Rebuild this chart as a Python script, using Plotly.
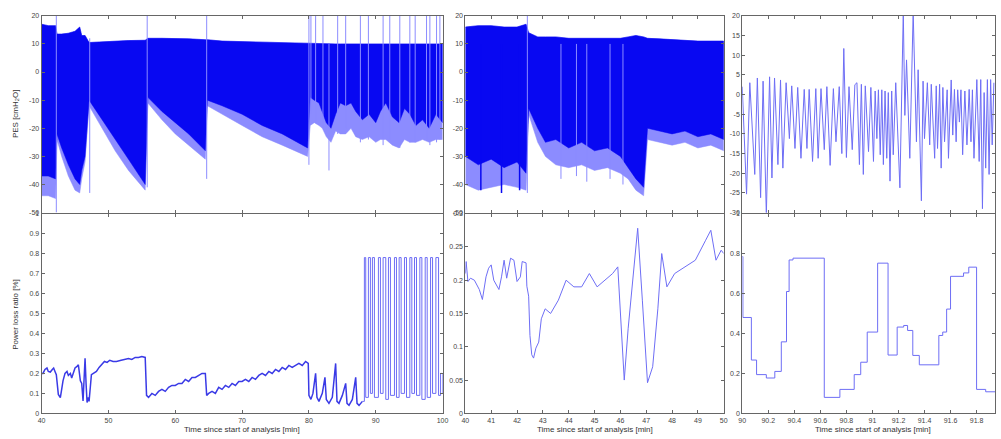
import plotly.graph_objects as go

# ---------------- PES, 40-100 min (dense breathing signal as envelopes) ----------------
pes_a_t = [40.0, 41.0, 42.1, 42.3, 43.0, 44.0, 45.0, 45.7, 46.0, 46.5, 47.1, 49.0, 51.0, 53.0, 55.5,
           55.9, 58.0, 60.0, 62.0, 64.5, 64.8, 67.0, 70.0, 73.0, 76.0, 79.8,
           80.2, 80.8, 81.5, 82.0, 82.6, 83.3, 84.0, 84.7, 85.5, 86.3, 87.0, 88.0, 89.0, 90.0, 90.7,
           91.5, 92.5, 93.5, 94.3, 95.1, 96.0, 97.0, 98.0, 99.0, 100.0]
pes_a_hi = [17, 16.5, 16.5, 13.5, 13.5, 13.8, 14.5, 16, 13, 13, 10.5, 10.8, 11, 11.2, 11.3,
            12, 12, 12, 11.8, 11.5, 11.5, 11, 10.8, 10.5, 10.3, 10.2,
            10, 10, 10, 10, 10, 10, 10, 10, 10, 10, 10, 10, 10, 10, 10,
            10, 10, 10, 10, 10, 10, 10, 10, 10, 10]
pes_a_lo = [-37, -37, -38, -22, -27, -33, -38, -40, -35, -30, -10, -17, -24, -31, -40,
            -9, -14, -18, -22, -28, -10, -12, -15, -19, -22, -27,
            -9, -10, -11, -14, -18, -20, -15, -11, -12, -11, -14, -17, -15, -18, -14,
            -11, -16, -18, -13, -15, -19, -17, -20, -15, -18]
pes_a_lo2 = [-44, -44, -45, -24, -30, -37, -42, -43, -38, -32, -12, -20, -28, -35, -42,
             -11, -17, -22, -26, -31, -12, -15, -19, -23, -26, -30,
             -19, -18, -19, -20, -23, -25, -21, -22, -22, -20, -23, -24, -23, -25, -24,
             -24, -26, -27, -24, -25, -25, -24, -25, -24, -24]
pes_a_spk_t = [42.2, 47.2, 55.8, 64.7, 80.0, 80.3, 81.0, 82.1, 83.0, 84.3, 85.5, 87.7, 88.9,
               91.1, 92.1, 93.6, 95.1, 95.9, 97.6, 98.1, 99.1, 99.6]
pes_a_spk_hi = [20, 12, 20, 20, 20, 20, 20, 20, 10, 20, 20, 20, 20, 20, 20, 20, 20, 20, 20, 20, 20, 20]
pes_a_spk_lo = [-50, -43, -41, -38, -33, -15, -18, -20, -35, -22, -20, -25, -24, -26, -24, -27,
                -25, -25, -24, -26, -25, -24]

# ---------------- PES, 40-50 min ----------------
pes_b_t = [40.0, 40.5, 41.0, 41.5, 42.0, 42.35, 42.45, 42.8, 43.1, 43.5, 44.0, 44.5, 45.0, 45.5,
           46.0, 46.3, 46.6, 46.9, 47.05, 47.5, 48.0, 48.5, 49.0, 49.5, 50.0]
pes_b_hi = [16, 16.5, 16.5, 16, 16, 17, 14, 12.5, 12.5, 12.5, 12, 12, 12, 12,
            12, 12.5, 13, 12.5, 12, 11.8, 11.5, 11.3, 11, 11, 11]
pes_b_lo = [-30, -33, -31, -34, -32, -36, -13, -20, -25, -24, -27, -25, -28, -27,
            -30, -34, -38, -41, -20, -21, -22, -21, -23, -22, -24]
pes_b_lo2 = [-40, -42, -41, -40, -41, -42, -15, -25, -30, -33, -34, -33, -35, -34,
             -36, -38, -42, -44, -24, -25, -26, -25, -27, -26, -28]
pes_b_spk_t = [42.4, 40.6, 41.4, 42.1, 43.7, 44.3, 44.7, 45.6, 46.1]
pes_b_spk_hi = [20, 10, 10, 10, 10, 10, 10, 10, 10]
pes_b_spk_lo = [-43, -42, -43, -42, -38, -37, -39, -38, -40]
pes_b_spk_dark = [False, True, True, True, False, False, False, False, False]

# ---------------- PES, 90-92 min (individual breaths: alternating peaks and troughs) ----------------
pes_c_t = [90.000, 90.033, 90.058, 90.096, 90.116, 90.141, 90.160, 90.185, 90.210, 90.228, 90.248,
           90.274, 90.294, 90.312, 90.337, 90.362, 90.380, 90.405, 90.426, 90.451, 90.476, 90.497,
           90.514, 90.540, 90.565, 90.583, 90.605, 90.630, 90.650, 90.675, 90.700, 90.720, 90.745,
           90.765, 90.780, 90.800, 90.820, 90.845, 90.865, 90.881, 90.900, 90.915, 90.930, 90.945,
           90.970, 90.988, 91.008, 91.021, 91.034, 91.046, 91.060, 91.072, 91.084, 91.097, 91.110,
           91.122, 91.135, 91.148, 91.160, 91.179, 91.211, 91.237, 91.249, 91.262, 91.287, 91.313,
           91.338, 91.351, 91.376, 91.389, 91.400, 91.422, 91.440, 91.452, 91.478, 91.490, 91.500,
           91.516, 91.528, 91.541, 91.554, 91.574, 91.584, 91.605, 91.617, 91.630, 91.643, 91.655,
           91.668, 91.680, 91.693, 91.710, 91.726, 91.743, 91.757, 91.768, 91.780, 91.802, 91.820,
           91.832, 91.845, 91.858, 91.870, 91.883, 91.896, 91.908, 91.920, 91.933]
pes_c_v = [2.0, -25.3, 3.0, -20.3, 4.2, -26.2, 3.4, -30.5, 4.5, -21.2, 4.2,
           -17.8, 3.7, -18.7, 3.0, -11.2, 2.2, -13.7, 1.8, -16.2, 1.3, -13.7,
           1.3, -17.0, 1.5, -16.2, 1.5, -14.0, 2.0, -18.0, 1.5, -12.0, 2.0,
           -15.0, 11.7, -16.0, 2.0, -14.0, 2.5, 3.0, -17.8, 2.6, -20.3, 2.2,
           -14.5, 1.8, -17.0, 0.9, -11.2, 1.2, -15.3, 1.2, -17.8, 0.9, -16.2,
           0.5, -22.0, 0.9, -15.3, 3.0, -23.7, 21.0, -5.3, 8.8, -16.2, 21.0,
           -12.0, 6.3, -27.0, 3.4, -11.2, 3.0, -12.8, 2.6, -16.2, 2.2, -13.7,
           2.6, -18.7, 1.8, -12.0, 1.2, -16.2, 3.7, -10.3, 1.3, -12.0, 1.2,
           -7.0, 1.2, -15.3, 0.9, -12.8, 1.3, -12.0, 1.2, -16.2, 3.8, -17.0,
           3.8, -29.0, 0.5, -18.7, 3.8, -20.3, 3.8, -12.8, 3.0]

# ---------------- Power loss ratio, 40-88 min ----------------
plr_a_t = [40.0, 40.2, 40.5, 40.8, 41.0, 41.3, 41.6, 41.8, 42.0, 42.2, 42.5, 42.8, 43.0, 43.2, 43.5, 43.8,
           44.0, 44.3, 44.5, 44.8, 45.0, 45.3, 45.5, 45.8, 46.0, 46.2, 46.35, 46.5, 46.65, 46.8, 47.0,
           47.1, 47.45, 47.8, 48.2, 48.6, 48.9, 49.4, 49.8, 50.2, 50.7, 51.2, 51.9, 52.5, 53.0, 53.5,
           54.0, 54.5, 55.0, 55.5, 55.7, 56.0, 56.5, 57.0, 57.5, 58.0, 58.5, 59.0, 59.5, 60.0, 60.5,
           61.0, 61.5, 62.0, 62.5, 63.0, 63.5, 64.0, 64.5, 64.7, 65.0, 65.5, 66.0, 66.5, 67.0, 67.5,
           68.0, 68.5, 69.0, 69.5, 70.0, 70.5, 71.0, 71.5, 72.0, 72.5, 73.0, 73.5, 74.0, 74.5, 75.0,
           75.5, 76.0, 76.5, 77.0, 77.5, 78.0, 78.5, 79.0, 79.5, 79.9, 80.0, 80.3, 80.6, 81.0, 81.2,
           81.5, 82.0, 82.4, 82.6, 83.0, 83.5, 84.0, 84.2, 84.5, 85.0, 85.5, 85.7, 86.0, 86.5, 87.0,
           87.2, 87.5, 88.0]
plr_a_v = [0.2, 0.2, 0.22, 0.227, 0.21, 0.207, 0.22, 0.227, 0.21, 0.194, 0.095, 0.079, 0.12, 0.163, 0.2,
           0.21, 0.19, 0.2, 0.177, 0.21, 0.227, 0.235, 0.243, 0.163, 0.15, 0.062, 0.22, 0.276, 0.15,
           0.054, 0.08, 0.06, 0.194, 0.2, 0.21, 0.23, 0.243, 0.26, 0.255, 0.266, 0.26, 0.26, 0.266,
           0.27, 0.275, 0.27, 0.28, 0.28, 0.285, 0.28, 0.09, 0.08, 0.1, 0.09, 0.11, 0.12, 0.11, 0.13,
           0.14, 0.14, 0.15, 0.15, 0.17, 0.16, 0.18, 0.18, 0.19, 0.2, 0.2, 0.09, 0.1, 0.11, 0.1, 0.13,
           0.12, 0.14, 0.13, 0.15, 0.14, 0.16, 0.16, 0.17, 0.16, 0.18, 0.17, 0.19, 0.2, 0.19, 0.21,
           0.2, 0.22, 0.21, 0.23, 0.22, 0.24, 0.23, 0.24, 0.25, 0.24, 0.26, 0.25, 0.09, 0.07, 0.1,
           0.2, 0.08, 0.06, 0.1, 0.18, 0.07, 0.05, 0.08, 0.25, 0.06, 0.05, 0.09, 0.15, 0.05, 0.04,
           0.07, 0.18, 0.05, 0.04, 0.06]
# on/off episodes, 88-100 min (held values)
plr_a_pulse_t = [88.0, 88.3, 88.5, 88.9, 89.2, 89.5, 89.8, 90.4, 90.7, 91.1, 91.5, 91.9, 92.2,
                 92.8, 93.1, 93.5, 93.8, 94.3, 94.6, 95.1, 95.4, 95.8, 96.1, 96.6, 96.9, 97.4, 97.7, 98.2,
                 98.5, 99.0, 99.4, 99.7, 100.0]
plr_a_pulse_v = [0.06, 0.78, 0.08, 0.78, 0.1, 0.78, 0.08, 0.78, 0.1, 0.78, 0.07,
                 0.78, 0.09, 0.78, 0.08, 0.78, 0.1, 0.78, 0.08, 0.78, 0.1, 0.78, 0.09, 0.78, 0.07, 0.78,
                 0.08, 0.78, 0.1, 0.78, 0.09, 0.2, 0.1]

# ---------------- Power loss ratio, 40-50 min ----------------
plr_b_t = [40.0, 40.03, 40.1, 40.2, 40.35, 40.54, 40.66, 40.8, 40.9, 41.0, 41.1, 41.3, 41.4, 41.5, 41.6,
           41.75, 41.88, 42.0, 42.13, 42.2, 42.35, 42.38, 42.45, 42.5, 42.57, 42.64, 42.73, 42.84, 42.94,
           43.09, 43.3, 43.6, 43.9, 44.2, 44.5, 44.8, 45.1, 45.4, 45.7, 45.9, 46.05, 46.15, 46.3, 46.67,
           46.85, 47.05, 47.25, 47.45, 47.6, 47.8, 48.1, 48.5, 48.9, 49.3, 49.5, 49.7, 49.9, 50.0]
plr_b_v = [0.21, 0.228, 0.198, 0.203, 0.2, 0.186, 0.171, 0.205, 0.218, 0.223, 0.2, 0.186, 0.205, 0.23,
           0.203, 0.233, 0.23, 0.198, 0.205, 0.228, 0.226, 0.191, 0.176, 0.117, 0.088, 0.083, 0.098,
           0.107, 0.142, 0.157, 0.15, 0.17, 0.2, 0.19, 0.19, 0.21, 0.19, 0.2, 0.21, 0.22, 0.11, 0.05,
           0.127, 0.278, 0.17, 0.046, 0.07, 0.157, 0.24, 0.19, 0.21, 0.22, 0.23, 0.26, 0.275, 0.23,
           0.245, 0.24]

# ---------------- Power loss ratio, 90-92 min (held samples) ----------------
plr_c_t = [90.0, 90.005, 90.07, 90.11, 90.185, 90.25, 90.30, 90.34, 90.36, 90.39, 90.63, 90.75, 90.86,
           90.91, 90.96, 91.04, 91.12, 91.19, 91.24, 91.27, 91.31, 91.36, 91.51, 91.54, 91.57, 91.60,
           91.70, 91.74, 91.80, 91.87, 91.95]
plr_c_v = [0.785, 0.48, 0.267, 0.194, 0.177, 0.21, 0.358, 0.61, 0.768, 0.777, 0.08, 0.12, 0.194,
           0.256, 0.407, 0.752, 0.292, 0.432, 0.44, 0.415, 0.29, 0.243, 0.39, 0.407, 0.522, 0.686,
           0.703, 0.732, 0.12, 0.108, 0.108]

# ---------------- tick labels ----------------
pes_ab_ticks = [-50, -40, -30, -20, -10, 0, 10, 20]
pes_c_ticks = [-30, -25, -20, -15, -10, -5, 0, 5, 10, 15, 20]
plr_a_ticks = [0, 0.1, 0.2, 0.3, 0.4, 0.5, 0.6, 0.7, 0.8, 0.9, 1]
plr_b_ticks = [0, 0.05, 0.1, 0.15, 0.2, 0.25, 0.3]
plr_c_ticks = [0, 0.2, 0.4, 0.6, 0.8, 1]
time_a_ticks = [40, 50, 60, 70, 80, 90, 100]
time_b_ticks = [40, 41, 42, 43, 44, 45, 46, 47, 48, 49, 50]
time_c_ticks = [90, 90.2, 90.4, 90.6, 90.8, 91, 91.2, 91.4, 91.6, 91.8]

DARK = "#0808f2"
LIGHT = "#8c8cff"
LINE = "#6e6ef5"
LINE_DK = "#3a3ae6"


def label(v):
    return f"{v:g}"  # plain hyphen-minus


def band(t, hi, lo, color, ax):
    return go.Scatter(x=list(t) + list(t)[::-1], y=list(hi) + list(lo)[::-1], mode="lines",
                      fill="toself", fillcolor=color, line=dict(width=0.5, color=color),
                      hoverinfo="skip", showlegend=False, xaxis="x" + ax, yaxis="y" + ax)


def spikes(t, hi, lo, color, ax, w=1):
    xs, ys = [], []
    for a, b, c in zip(t, hi, lo):
        xs += [a, a, None]
        ys += [c, b, None]
    return go.Scatter(x=xs, y=ys, mode="lines", line=dict(width=w, color=color),
                      hoverinfo="skip", showlegend=False, xaxis="x" + ax, yaxis="y" + ax)


fig = go.Figure()
# top-left
fig.add_trace(band(pes_a_t, pes_a_hi, pes_a_lo2, LIGHT, "1"))
fig.add_trace(band(pes_a_t, pes_a_hi, pes_a_lo, DARK, "1"))
fig.add_trace(spikes(pes_a_spk_t, pes_a_spk_hi, pes_a_spk_lo, LIGHT, "1"))
# top-middle
fig.add_trace(band(pes_b_t, pes_b_hi, pes_b_lo2, LIGHT, "2"))
fig.add_trace(band(pes_b_t, pes_b_hi, pes_b_lo, DARK, "2"))
lt = [k for k, d in enumerate(pes_b_spk_dark) if not d]
dk = [k for k, d in enumerate(pes_b_spk_dark) if d]
fig.add_trace(spikes([pes_b_spk_t[k] for k in lt], [pes_b_spk_hi[k] for k in lt],
                     [pes_b_spk_lo[k] for k in lt], LIGHT, "2"))
fig.add_trace(spikes([pes_b_spk_t[k] for k in dk], [pes_b_spk_hi[k] for k in dk],
                     [pes_b_spk_lo[k] for k in dk], DARK, "2", w=1.5))
# top-right
fig.add_trace(go.Scatter(x=pes_c_t, y=pes_c_v, mode="lines", line=dict(width=1, color=LINE),
                         showlegend=False, xaxis="x3", yaxis="y3"))
# bottom row
fig.add_trace(go.Scatter(x=plr_a_t, y=plr_a_v, mode="lines", line=dict(width=1.5, color=LINE_DK),
                         showlegend=False, xaxis="x4", yaxis="y4"))
fig.add_trace(go.Scatter(x=plr_a_pulse_t, y=plr_a_pulse_v, mode="lines",
                         line=dict(width=1, color=LINE, shape="hv"),
                         showlegend=False, xaxis="x4", yaxis="y4"))
fig.add_trace(go.Scatter(x=plr_b_t, y=plr_b_v, mode="lines", line=dict(width=1, color=LINE),
                         showlegend=False, xaxis="x5", yaxis="y5"))
fig.add_trace(go.Scatter(x=plr_c_t, y=plr_c_v, mode="lines", line=dict(width=1, color=LINE, shape="hv"),
                         showlegend=False, xaxis="x6", yaxis="y6"))

W, H = 1001, 439
xdom = {"L": [38 / W, 443 / W], "M": [466 / W, 727 / W], "R": [745.7 / W, 1.0]}
ytop = [1 - 212 / H, 1 - 12 / H]
ybot = [1 - 416 / H, 1 - 213 / H]

tickfont = dict(family="Liberation Sans, Arial, sans-serif", size=7, color="#444")
axcommon = dict(showgrid=False, zeroline=False, showline=True, linecolor="#666", linewidth=1,
                mirror="ticks", ticks="inside", ticklen=3, tickcolor="#666", tickfont=tickfont)


def xax(dom, rng, ticks, anchor, labels):
    return dict(domain=dom, range=rng, tickvals=ticks, ticktext=[label(v) for v in ticks],
                showticklabels=labels, anchor=anchor, **axcommon)


def yax(dom, rng, ticks, anchor):
    return dict(domain=dom, range=rng, tickvals=ticks, ticktext=[label(v) for v in ticks],
                anchor=anchor, **axcommon)


fig.update_layout(
    width=W, height=H, margin=dict(l=0, r=0, t=0, b=0),
    paper_bgcolor="white", plot_bgcolor="white", showlegend=False,
    xaxis=xax(xdom["L"], [40, 100], time_a_ticks, "y", False),
    yaxis=yax(ytop, [-50, 20], pes_ab_ticks, "x"),
    xaxis2=xax(xdom["M"], [40, 50], time_b_ticks, "y2", False),
    yaxis2=yax(ytop, [-50, 20], pes_ab_ticks, "x2"),
    xaxis3=xax(xdom["R"], [90, 91.9415], time_c_ticks, "y3", False),
    yaxis3=yax(ytop, [-30, 20], pes_c_ticks, "x3"),
    xaxis4=xax(xdom["L"], [40, 100], time_a_ticks, "y4", True),
    yaxis4=yax(ybot, [0, 1], plr_a_ticks, "x4"),
    xaxis5=xax(xdom["M"], [40, 50], time_b_ticks, "y5", True),
    yaxis5=yax(ybot, [0, 0.3], plr_b_ticks, "x5"),
    xaxis6=xax(xdom["R"], [90, 91.9415], time_c_ticks, "y6", True),
    yaxis6=yax(ybot, [0, 1], plr_c_ticks, "x6"),
)

titlefont = dict(family="Liberation Sans, Arial, sans-serif", size=8, color="#333")
xtitle = "Time since start of analysis [min]"
for cx in (240.5 / W, 597 / W, 877.5 / W):
    fig.add_annotation(text=xtitle, x=cx, y=1 - 432 / H, xref="paper", yref="paper",
                       showarrow=False, font=titlefont, xanchor="center", yanchor="middle")
fig.add_annotation(text="PES [cmH<sub>2</sub>O]", x=12 / W, y=1 - 112 / H, xref="paper", yref="paper",
                   showarrow=False, font=titlefont, textangle=-90, xanchor="center", yanchor="middle")
fig.add_annotation(text="Power loss ratio [%]", x=12 / W, y=1 - 315 / H, xref="paper", yref="paper",
                   showarrow=False, font=titlefont, textangle=-90, xanchor="center", yanchor="middle")

fig.write_html("out.html")
